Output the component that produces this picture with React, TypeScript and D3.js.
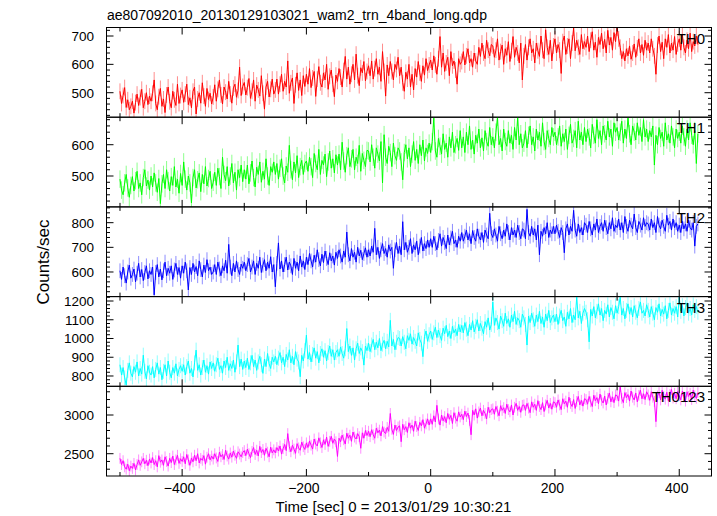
import React from 'react';
import * as d3 from 'd3';

const TITLE = 'ae807092010_20130129103021_wam2_trn_4band_long.qdp';
const X_LABEL = 'Time [sec] 0 = 2013/01/29 10:30:21';
const Y_LABEL = 'Counts/sec';

// sample times (sec): one value every 2.5 s from -500 to 430
const T_START = -500;
const T_STEP = 2.5;

const th0 = [
  505, 462, 490, 518, 448, 475, 440, 452, 470, 428, 465, 495, 455, 483, 512, 447, 470, 500, 458, 488,
  470, 498, 545, 462, 440, 486, 515, 452, 478, 430, 492, 520, 468, 447, 505, 475, 455, 530, 462, 490,
  510, 466, 495, 530, 458, 482, 447, 505, 520, 425, 478, 500, 463, 535, 488, 452, 515, 476, 498, 460,
  485, 528, 470, 512, 545, 492, 460, 520, 502, 478, 540, 495, 463, 517, 530, 484, 508, 590, 490, 522,
  536, 492, 518, 550, 480, 505, 545, 470, 527, 510, 488, 560, 498, 442, 520, 540, 485, 512, 548, 495,
  510, 548, 495, 530, 565, 505, 540, 520, 612, 498, 535, 552, 462, 528, 570, 508, 545, 490, 560, 522,
  565, 530, 585, 518, 552, 575, 487, 548, 592, 535, 520, 570, 545, 600, 512, 558, 580, 530, 486, 562,
  540, 585, 555, 520, 578, 628, 548, 590, 530, 565, 600, 545, 636, 560, 525, 588, 570, 610, 542, 575,
  595, 560, 612, 548, 585, 620, 565, 590, 540, 645, 575, 488, 598, 560, 610, 575, 545, 600, 582, 625,
  560, 590, 535, 505, 572, 548, 600, 520, 565, 510, 585, 555, 610, 570, 540, 595, 562, 620, 578, 598,
  615, 580, 630, 598, 565, 620, 698, 590, 640, 575, 605, 625, 560, 645, 595, 612, 580, 530, 620, 600,
  610, 645, 598, 630, 655, 605, 620, 590, 640, 612, 600, 660, 628, 675, 640, 620, 685, 650, 630, 670,
  665, 625, 650, 690, 615, 645, 668, 600, 655, 632, 680, 610, 648, 698, 625, 660, 640, 605, 675, 545,
  630, 670, 615, 660, 690, 640, 655, 605, 675, 648, 628, 700, 650, 620, 722, 660, 635, 685, 612, 665,
  690, 640, 670, 650, 568, 680, 700, 635, 665, 690, 620, 675, 728, 648, 685, 660, 635, 705, 655, 680,
  660, 700, 645, 685, 715, 650, 678, 625, 695, 670, 710, 655, 688, 640, 720, 668, 695, 650, 712, 680,
  728, 690, 660, 620, 645, 612, 655, 630, 665, 618, 640, 672, 625, 658, 690, 640, 670, 632, 685, 650,
  675, 640, 690, 655, 630, 565, 668, 700, 645, 678, 620, 690, 660, 705, 640, 675, 650, 698, 635, 672,
  690, 650, 705, 660, 640, 685, 655, 710, 645, 680, 665, 700, 670,
];

const th1 = [
  490, 455, 440, 478, 505, 462, 432, 470, 498, 452, 485, 515, 460, 478, 440, 495, 520, 468, 487, 455,
  500, 465, 510, 478, 448, 492, 412, 475, 505, 460, 520, 485, 452, 498, 470, 530, 465, 490, 445, 508,
  470, 545, 490, 455, 500, 478, 414, 495, 520, 462, 488, 510, 450, 505, 475, 530, 468, 492, 515, 460,
  480, 512, 470, 525, 498, 460, 560, 505, 485, 530, 468, 500, 540, 478, 512, 455, 520, 495, 535, 482,
  520, 490, 535, 475, 510, 548, 495, 465, 528, 505, 545, 480, 515, 490, 555, 500, 470, 530, 512, 545,
  505, 540, 490, 525, 555, 500, 478, 532, 512, 598, 520, 488, 545, 510, 565, 495, 530, 550, 505, 540,
  548, 515, 560, 530, 495, 572, 540, 520, 585, 505, 550, 535, 570, 498, 545, 580, 525, 555, 510, 568,
  535, 570, 520, 608, 548, 512, 565, 590, 530, 555, 585, 520, 560, 540, 598, 515, 572, 550, 530, 582,
  580, 545, 600, 560, 525, 590, 570, 548, 610, 478, 632, 560, 540, 595, 575, 530, 605, 565, 550, 590,
  580, 545, 488, 575, 600, 555, 590, 530, 570, 610, 550, 585, 540, 600, 565, 615, 548, 590, 572, 605,
  575, 610, 685, 580, 560, 620, 595, 570, 635, 585, 605, 560, 625, 590, 640, 575, 600, 620, 582, 645,
  590, 625, 575, 640, 600, 660, 585, 615, 570, 630, 605, 650, 590, 622, 580, 645, 610, 595, 655, 600,
  625, 590, 640, 688, 600, 620, 580, 650, 610, 595, 645, 605, 630, 585, 655, 615, 688, 600, 635, 590,
  605, 645, 590, 630, 660, 600, 625, 580, 650, 615, 640, 595, 670, 610, 585, 645, 620, 600, 655, 625,
  640, 600, 625, 660, 595, 635, 610, 650, 585, 630, 665, 605, 620, 645, 590, 675, 615, 640, 600, 655,
  610, 650, 625, 590, 665, 630, 605, 680, 620, 645, 600, 660, 635, 615, 675, 625, 650, 595, 670, 640,
  655, 615, 640, 675, 605, 650, 620, 685, 635, 600, 660, 640, 615, 670, 630, 655, 610, 680, 625, 650,
  610, 645, 625, 660, 535, 630, 600, 655, 620, 640, 595, 670, 615, 635, 605, 660, 625, 590, 650, 620,
  640, 605, 660, 625, 595, 650, 615, 670, 630, 600, 645, 540, 635,
];

const th2 = [
  605, 570, 620, 585, 555, 600, 628, 575, 590, 612, 560, 595, 635, 580, 610, 565, 598, 625, 572, 605,
  590, 620, 507, 598, 630, 580, 612, 568, 605, 640, 585, 615, 595, 625, 570, 608, 635, 590, 618, 575,
  625, 595, 640, 605, 527, 618, 590, 635, 600, 622, 585, 645, 610, 580, 628, 598, 650, 605, 620, 590,
  600, 630, 590, 640, 612, 585, 625, 605, 648, 595, 712, 620, 585, 635, 600, 645, 610, 590, 632, 615,
  640, 605, 630, 655, 600, 620, 645, 590, 635, 615, 660, 598, 628, 650, 605, 640, 615, 662, 600, 630,
  540, 635, 718, 612, 645, 600, 630, 660, 608, 640, 625, 590, 655, 615, 640, 605, 665, 620, 645, 610,
  660, 630, 675, 645, 620, 668, 640, 690, 650, 625, 672, 638, 685, 655, 630, 678, 645, 665, 628, 680,
  655, 690, 665, 640, 685, 660, 762, 670, 645, 695, 660, 680, 640, 700, 665, 688, 650, 675, 698, 660,
  690, 665, 705, 680, 777, 670, 700, 655, 690, 715, 675, 695, 660, 710, 685, 700, 615, 690, 720, 675,
  705, 670, 804, 690, 720, 680, 700, 735, 675, 710, 690, 725, 670, 705, 740, 685, 715, 695, 730, 700,
  735, 700, 745, 715, 690, 728, 755, 705, 740, 720, 695, 750, 710, 738, 765, 715, 730, 700, 745, 725,
  760, 725, 745, 770, 730, 755, 715, 768, 740, 725, 775, 745, 730, 760, 720, 770, 750, 735, 838, 755,
  740, 775, 750, 725, 785, 755, 735, 770, 745, 795, 760, 730, 780, 750, 770, 740, 790, 760, 735, 775,
  770, 735, 854, 760, 745, 785, 750, 775, 730, 790, 670, 765, 745, 780, 755, 800, 740, 770, 755, 785,
  755, 790, 765, 740, 780, 760, 678, 775, 795, 750, 785, 765, 850, 770, 745, 795, 760, 780, 750, 800,
  790, 760, 805, 775, 750, 795, 770, 815, 760, 785, 800, 765, 810, 780, 755, 800, 775, 820, 765, 790,
  780, 815, 770, 800, 760, 825, 785, 765, 810, 790, 775, 835, 780, 760, 805, 790, 770, 820, 785, 800,
  795, 770, 815, 780, 800, 760, 825, 790, 775, 810, 785, 765, 830, 790, 805, 770, 815, 780, 800, 765,
  790, 760, 805, 775, 795, 765, 810, 780, 770, 800, 705, 785, 795,
];

const th3 = [
  860, 805, 845, 790, 752, 830, 870, 815, 795, 850, 820, 875, 800, 840, 810, 911, 825, 785, 855, 820,
  805, 850, 790, 835, 870, 810, 845, 780, 825, 860, 800, 880, 820, 790, 845, 815, 865, 800, 835, 855,
  825, 860, 805, 850, 880, 815, 840, 795, 870, 938, 830, 860, 805, 845, 885, 820, 855, 810, 875, 840,
  870, 825, 860, 895, 835, 855, 815, 880, 845, 900, 830, 865, 840, 885, 820, 875, 965, 850, 890, 835,
  880, 845, 895, 835, 870, 910, 850, 885, 830, 875, 905, 860, 814, 890, 850, 920, 865, 840, 900, 875,
  905, 860, 895, 925, 870, 900, 850, 915, 885, 940, 870, 905, 860, 930, 890, 875, 796, 910, 880, 935,
  1018, 890, 925, 875, 915, 950, 895, 930, 870, 920, 945, 900, 935, 880, 925, 960, 905, 940, 885, 925,
  940, 905, 955, 920, 895, 945, 1053, 930, 960, 910, 950, 885, 945, 975, 920, 950, 930, 858, 960, 935,
  975, 930, 965, 995, 940, 980, 950, 1000, 935, 970, 990, 945, 985, 955, 1097, 960, 995, 940, 980, 1005,
  1000, 960, 1010, 980, 945, 1015, 990, 1025, 970, 1005, 985, 960, 1030, 995, 975, 903, 1010, 1040, 985, 1020,
  1040, 995, 1030, 1060, 1005, 1045, 1015, 990, 1055, 1025, 1070, 1010, 1040, 1000, 1065, 1030, 1050, 1015, 1075, 1035,
  1070, 1030, 1085, 1050, 1015, 1075, 1045, 1095, 1035, 1065, 1100, 1040, 1080, 1055, 1025, 1090, 1060, 1110, 1045, 1075,
  1195, 1070, 1110, 1085, 1050, 1120, 1095, 1065, 1135, 1080, 1105, 1060, 1125, 1090, 1145, 1075, 1110, 1095, 1060, 1130,
  1110, 1075, 965, 1120, 1085, 1135, 1100, 1065, 1125, 1090, 1145, 1080, 1115, 1060, 1130, 1095, 1150, 1085, 1110, 1125,
  1090, 1130, 1075, 1120, 1150, 1095, 1115, 1065, 1140, 1105, 1160, 1085, 1125, 1100, 1221, 1110, 1145, 1080, 1135, 1160,
  1140, 1100, 982, 1155, 1120, 1170, 1110, 1145, 1185, 1125, 1160, 1095, 1150, 1130, 1180, 1115, 1165, 1140, 1105, 1175,
  1135, 1170, 1221, 1125, 1160, 1105, 1150, 1185, 1130, 1165, 1115, 1175, 1140, 1110, 1160, 1195, 1135, 1150, 1120, 1180,
  1150, 1115, 1170, 1135, 1100, 1165, 1140, 1185, 1120, 1155, 1130, 1175, 1105, 1150, 1190, 1125, 1160, 1135, 1170, 1115,
  1221, 1145, 1175, 1120, 1165, 1190, 1135, 1160, 1125, 1180, 1150, 1170, 1140,
];

const th0123 = [
  2440, 2360, 2410, 2330, 2300, 2365, 2280, 2340, 2310, 2375, 2290, 2360, 2420, 2350, 2395, 2440, 2370, 2415, 2345, 2430,
  2380, 2450, 2360, 2410, 2330, 2475, 2390, 2420, 2350, 2460, 2400, 2340, 2440, 2385, 2470, 2360, 2420, 2480, 2375, 2435,
  2400, 2460, 2370, 2490, 2420, 2350, 2445, 2395, 2480, 2410, 2500, 2380, 2440, 2415, 2475, 2365, 2455, 2500, 2420, 2470,
  2430, 2500, 2445, 2400, 2520, 2460, 2490, 2425, 2545, 2470, 2430, 2510, 2455, 2535, 2480, 2440, 2525, 2495, 2460, 2515,
  2540, 2475, 2560, 2500, 2450, 2530, 2580, 2490, 2545, 2470, 2595, 2515, 2555, 2480, 2570, 2520, 2460, 2585, 2510, 2550,
  2510, 2580, 2535, 2600, 2495, 2565, 2620, 2540, 2760, 2590, 2525, 2610, 2560, 2505, 2630, 2575, 2545, 2650, 2590, 2555,
  2640, 2580, 2665, 2610, 2560, 2690, 2625, 2600, 2705, 2640, 2580, 2680, 2620, 2715, 2595, 2660, 2725, 2635, 2690, 2655,
  2465, 2700, 2655, 2740, 2680, 2625, 2765, 2700, 2740, 2660, 2780, 2715, 2690, 2760, 2720, 2570, 2770, 2700, 2800, 2735,
  2790, 2720, 2810, 2745, 2700, 2830, 2770, 2805, 2730, 2850, 2780, 2760, 2840, 2790, 3020, 2815, 2750, 2870, 2800, 2845,
  2860, 2655, 2880, 2810, 2850, 2775, 2900, 2830, 2870, 2790, 2920, 2850, 2800, 2905, 2860, 2940, 2830, 2885, 2950, 2870,
  2950, 2880, 2990, 2910, 3125, 2950, 2870, 3000, 2925, 2980, 2900, 3020, 2945, 2995, 2890, 3030, 2960, 2920, 3040, 2975,
  3010, 2940, 3050, 2980, 3025, 2930, 2745, 3060, 3000, 3080, 2960, 3040, 3090, 2990, 3060, 3020, 2950, 3100, 3030, 3070,
  3080, 3010, 3110, 3050, 2990, 3120, 3060, 3095, 3020, 3140, 3070, 3040, 3130, 3000, 3100, 3150, 3060, 3110, 3035, 3125,
  3130, 3060, 3150, 3090, 3030, 3170, 3100, 3140, 3060, 3185, 3110, 3070, 3160, 3045, 3130, 3190, 3090, 3150, 3075, 3170,
  3160, 3100, 3195, 3130, 3070, 3210, 3145, 3180, 3100, 3230, 3150, 3110, 3200, 3085, 3175, 3240, 3130, 3190, 3115, 3210,
  3200, 3140, 3240, 3170, 3110, 3255, 3185, 3225, 3145, 3270, 3190, 3155, 3245, 3130, 3215, 3285, 3170, 3235, 3160, 3260,
  3250, 3180, 3366, 3215, 3160, 3290, 3225, 3265, 3180, 3310, 3230, 3195, 3285, 3170, 3255, 3320, 3210, 3275, 3200, 3300,
  3260, 3190, 3300, 3230, 3175, 2914, 3245, 3290, 3195, 3320, 3240, 3205, 3295, 3180, 3265, 3330, 3220, 3280, 3210, 3305,
  3250, 3195, 3310, 3235, 3180, 3300, 3240, 3280, 3200, 3320, 3250, 3215, 3290,
];

const series = [th0, th1, th2, th3, th0123];
const panelNames = ['TH0', 'TH1', 'TH2', 'TH3', 'TH0123'];
const panelColors = ['#ff0000', '#00ff00', '#0000ff', '#00ffff', '#ff00ff'];
const panelDomains: [number, number][] = [
  [413.6, 730],
  [401.3, 687.9],
  [500.2, 864],
  [745, 1223.5],
  [2212, 3371],
];
const yMajorTicks = [
  [500, 600, 700],
  [500, 600],
  [600, 700, 800],
  [800, 900, 1000, 1100, 1200],
  [2500, 3000],
];
const yMinorSteps = [20, 20, 20, 20, 100];
const errors = [28, 28, 30, 40, 70];
const xTicks = [-500, -400, -300, -200, -100, 0, 100, 200, 300, 400];
const xLabelled = [-400, -200, 0, 200, 400];

const W = 717;
const H = 516;
const LEFT = 106.5;
const RIGHT = 711.5;
const TOP = 27.5;
const PH = 89.7;
const FONT = '"Liberation Sans", Arial, Helvetica, sans-serif';

export default function App() {
  const x = d3.scaleLinear().domain([-521.7, 451.9]).range([LEFT, RIGHT]);

  const panels = series.map((vals, i) => {
    const y0 = TOP + i * PH;
    const y1 = y0 + PH;
    const y = d3.scaleLinear().domain(panelDomains[i]).range([y1, y0]);
    const pts = vals.map((v, k) => ({ t: T_START + k * T_STEP, v }));
    const line = d3
      .line<{ t: number; v: number }>()
      .x((d) => x(d.t))
      .y((d) => y(d.v));
    const err = errors[i];
    const errPath = pts
      .map((d) => `M${x(d.t).toFixed(2)},${y(d.v - err).toFixed(2)}V${y(d.v + err).toFixed(2)}`)
      .join('');
    const [dmin, dmax] = panelDomains[i];
    const step = yMinorSteps[i];
    const minors: number[] = [];
    for (let v = Math.ceil(dmin / step) * step; v <= dmax; v += step) {
      if (!yMajorTicks[i].includes(v)) minors.push(v);
    }
    return { i, y0, y1, y, pts, line, errPath, minors };
  });

  return (
    <svg
      width={W}
      height={H}
      style={{ position: 'absolute', left: 0, top: 0, background: '#fff' }}
      fontFamily={FONT}
    >
      <rect x={0} y={0} width={W} height={H} fill="#fff" />
      <defs>
        {panels.map((p) => (
          <clipPath id={`clip${p.i}`} key={p.i}>
            <rect x={LEFT} y={p.y0} width={RIGHT - LEFT} height={PH} />
          </clipPath>
        ))}
      </defs>
      <text x={107} y={20} fontSize={14} fill="#000">
        {TITLE}
      </text>
      {panels.map((p) => (
        <g key={p.i}>
          <g clipPath={`url(#clip${p.i})`}>
            <path d={p.errPath} stroke={panelColors[p.i]} strokeOpacity={0.45} strokeWidth={1} fill="none" />
            <path d={p.line(p.pts) || ''} stroke={panelColors[p.i]} strokeWidth={1} fill="none" />
          </g>
          <rect x={LEFT} y={p.y0} width={RIGHT - LEFT} height={PH} fill="none" stroke="#000" strokeWidth={1} />
          {xTicks.map((t) => {
            const len = xLabelled.includes(t) ? 7 : 4;
            const xx = x(t);
            return (
              <g key={`xt${t}`}>
                <line x1={xx} x2={xx} y1={p.y0} y2={p.y0 + len} stroke="#000" />
                <line x1={xx} x2={xx} y1={p.y1} y2={p.y1 - len} stroke="#000" />
              </g>
            );
          })}
          {yMajorTicks[p.i].map((v) => (
            <g key={`ym${v}`}>
              <line x1={LEFT} x2={LEFT + 7} y1={p.y(v)} y2={p.y(v)} stroke="#000" />
              <line x1={RIGHT} x2={RIGHT - 7} y1={p.y(v)} y2={p.y(v)} stroke="#000" />
              <text x={94} y={p.y(v)} dy="0.36em" textAnchor="end" fontSize={13.5} fill="#000">
                {v}
              </text>
            </g>
          ))}
          {p.minors.map((v) => (
            <g key={`yn${v}`}>
              <line x1={LEFT} x2={LEFT + 3.5} y1={p.y(v)} y2={p.y(v)} stroke="#000" />
              <line x1={RIGHT} x2={RIGHT - 3.5} y1={p.y(v)} y2={p.y(v)} stroke="#000" />
            </g>
          ))}
          <text x={705} y={p.y0 + 16} textAnchor="end" fontSize={15} fill="#000">
            {panelNames[p.i]}
          </text>
        </g>
      ))}
      {xLabelled.map((t) => (
        <text key={`xl${t}`} x={x(t) - 2.5} y={493} textAnchor="middle" fontSize={14} fill="#000">
          {t < 0 ? `\u2212${Math.abs(t)}` : t}
        </text>
      ))}
      <text x={393.5} y={512} textAnchor="middle" fontSize={15} fill="#000">
        {X_LABEL}
      </text>
      <text
        x={48.5}
        y={262}
        textAnchor="middle"
        fontSize={17}
        fill="#000"
        transform="rotate(-90, 48.5, 262)"
      >
        {Y_LABEL}
      </text>
    </svg>
  );
}
